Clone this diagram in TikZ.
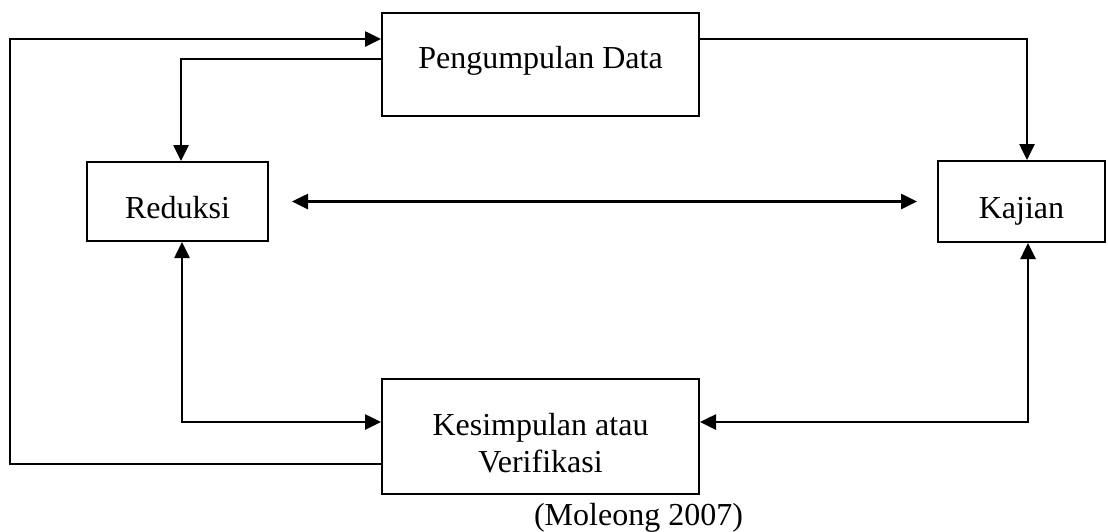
\documentclass[tikz,border=0pt]{standalone}
\usepackage{fontspec}
\setmainfont{Liberation Serif}
\usetikzlibrary{arrows.meta}
\begin{document}
\begin{tikzpicture}[x=0.5pt, y=-0.5pt, font=\fontsize{16}{18.5}\selectfont,
	kotak/.style={draw, line width=1pt, inner sep=0pt},
	garis/.style={line width=1.3pt},
	panah/.style={garis, -{Triangle[length=8pt, width=7.5pt]}},
	panah2/.style={garis, {Triangle[length=8pt, width=7.5pt]}-{Triangle[length=8pt, width=7.5pt]}}]
	\useasboundingbox (0,0) rectangle (1108,531);
	\node[kotak, minimum width=158.5pt, text height=27.5pt, text depth=24pt] (peng) at (540.5,64.5) {Pengumpulan Data};
	\node[kotak, minimum width=90.5pt, text height=28pt, text depth=11.5pt] (red) at (177.5,201.5) {Reduksi};
	\node[kotak, minimum width=83.5pt, text height=28.5pt, text depth=12pt] (kaj) at (1021.5,201.5) {Kajian};
	\node[kotak, minimum width=158.5pt, text height=28pt, text depth=29.5pt] (kes) at (540.5,436.5) {\begin{tabular}[t]{@{}c@{}}Kesimpulan atau\\ Verifikasi\end{tabular}};
	\node[anchor=base] (sumber) at (638.5,525) {(Moleong 2007)};
	\coordinate (kiri) at (10,39);
	\draw[panah] (kes.west |- 0,464) -| (kiri) -- (peng.west |- kiri);
	\draw[panah] (peng.west |- 0,59) -| ([xshift=1.75pt]red.north);
	\draw[panah] (peng.east |- kiri) -| ([xshift=2.75pt]kaj.north);
	\draw[panah2, shorten <=11.5pt, shorten >=10pt] (red.east) -- (kaj.west);
	\draw[panah2] ([xshift=2.25pt]red.south) |- ([yshift=7.25pt]kes.west);
	\draw[panah2] ([xshift=3.25pt]kaj.south) |- ([yshift=7.25pt]kes.east);
\end{tikzpicture}
\end{document}
